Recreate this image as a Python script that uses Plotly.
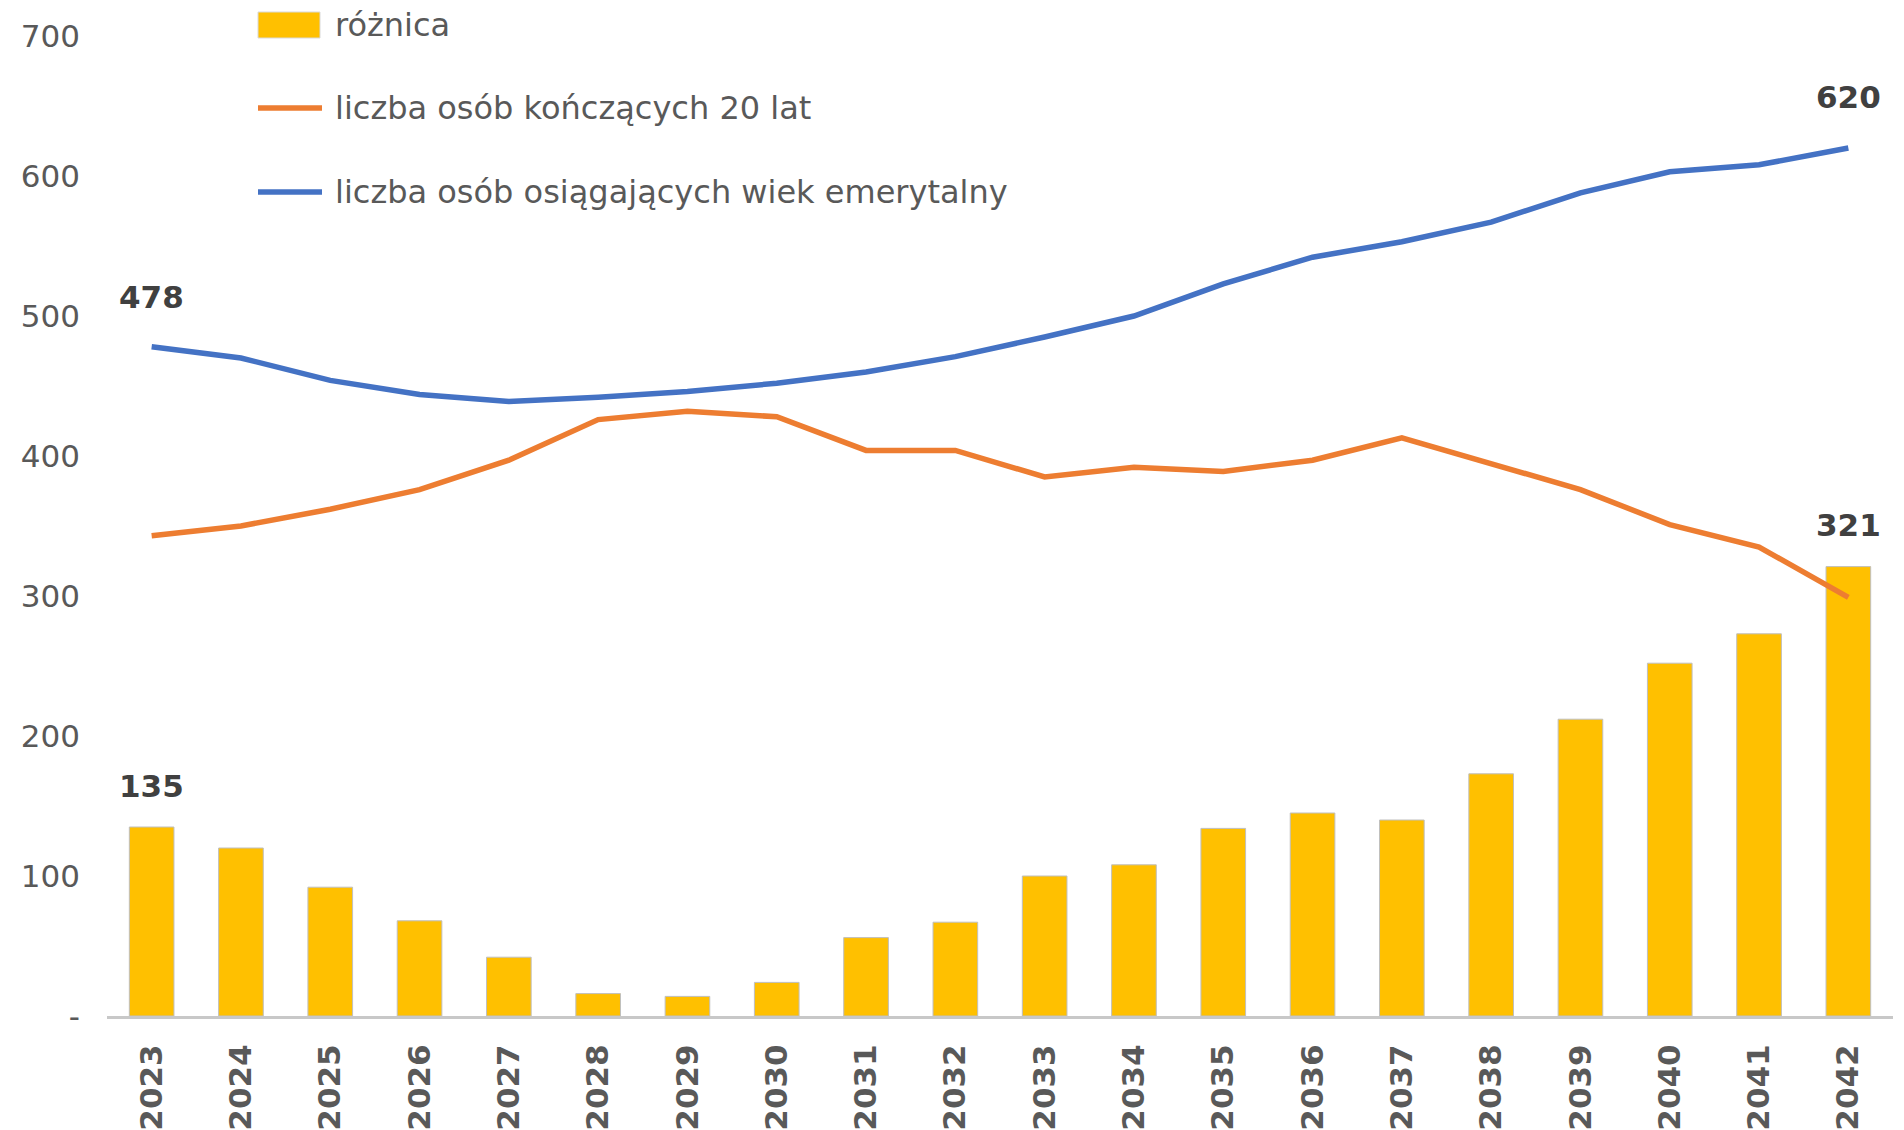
import plotly.graph_objects as go

years = [str(y) for y in range(2023, 2043)]
roznica = [135, 120, 92, 68, 42, 16, 14, 24, 56, 67, 100, 108, 134, 145, 140, 173, 212, 252, 273, 321]
konczacy20 = [343, 350, 362, 376, 397, 426, 432, 428, 404, 404, 385, 392, 389, 397, 413, 394, 376, 351, 335, 299]
emerytalny = [478, 470, 454, 444, 439, 442, 446, 452, 460, 471, 485, 500, 523, 542, 553, 567, 588, 603, 608, 620]

name_bar = "różnica"
name_orange = "liczba osób kończących 20 lat"
name_blue = "liczba osób osiągających wiek emerytalny"

ytick_vals = [0, 100, 200, 300, 400, 500, 600, 700]
ytick_text = ["-", "100", "200", "300", "400", "500", "600", "700"]

FONT = "DejaVu Sans"
GRAY = "#595959"
DARK = "#404040"
C_BAR = "#FFC000"
C_ORANGE = "#ED7D31"
C_BLUE = "#4472C4"

W, H = 1904, 1130
ML, MR, MT, MB = 107, 11, 36, 114
PW, PH = W - ML - MR, H - MT - MB

fig = go.Figure()
fig.add_trace(go.Bar(
    x=years, y=roznica, name=name_bar, showlegend=False,
    marker=dict(color=C_BAR, line=dict(color="#BFBFBF", width=1)),
))
fig.add_trace(go.Scatter(
    x=years, y=konczacy20, name=name_orange, mode="lines", showlegend=False,
    line=dict(color=C_ORANGE, width=5.5),
))
fig.add_trace(go.Scatter(
    x=years, y=emerytalny, name=name_blue, mode="lines", showlegend=False,
    line=dict(color=C_BLUE, width=5.5),
))

# value labels (x given as category index)
lab_font = dict(family=FONT, size=31, color=DARK, weight="bold")
for idx, series, shift in [
    (0, emerytalny, 50),
    (len(years) - 1, emerytalny, 51),
    (0, roznica, 41),
    (len(years) - 1, roznica, 42),
]:
    fig.add_annotation(x=idx, y=series[idx], xref="x", yref="y", text=str(series[idx]),
                       showarrow=False, yanchor="middle", yshift=shift, font=lab_font)

# legend drawn manually (pixel positions converted to paper coords)
def px_x(p):
    return (p - ML) / PW

def px_y(p):
    return (H - MB - p) / PH

leg_font = dict(family=FONT, size=32, color=GRAY)
fig.add_shape(type="rect", xref="paper", yref="paper",
              x0=px_x(258), x1=px_x(320), y0=px_y(38), y1=px_y(12),
              fillcolor=C_BAR, line=dict(color="#D9D9D9", width=1))
for ycen, col in [(108, C_ORANGE), (192, C_BLUE)]:
    fig.add_shape(type="line", xref="paper", yref="paper",
                  x0=px_x(258), x1=px_x(322), y0=px_y(ycen), y1=px_y(ycen),
                  line=dict(color=col, width=5.5))
for ycen, txt in [(25, name_bar), (108, name_orange), (192, name_blue)]:
    fig.add_annotation(x=px_x(333), y=px_y(ycen), xref="paper", yref="paper",
                       text=txt, showarrow=False, xanchor="left", yanchor="middle",
                       font=leg_font)

fig.update_layout(
    width=W, height=H,
    margin=dict(l=ML, r=MR, t=MT, b=MB, autoexpand=False),
    paper_bgcolor="white", plot_bgcolor="white",
    bargap=0.5,
    showlegend=False,
    xaxis=dict(
        type="category", showgrid=False, showline=True, linecolor="#C8C8C8", linewidth=3,
        tickangle=-90, ticks="", ticklabelstandoff=13, automargin=False,
        tickfont=dict(family=FONT, size=31, color=GRAY, weight="bold"),
    ),
    yaxis=dict(
        range=[0, 700], showgrid=False, zeroline=False, showline=False, ticks="",
        tickvals=ytick_vals, ticktext=ytick_text, ticklabelstandoff=26, automargin=False,
        tickfont=dict(family=FONT, size=31, color=GRAY),
    ),
)

fig.write_html("out.html", config={"displayModeBar": False},
               post_script="document.body.style.margin='0px';")
